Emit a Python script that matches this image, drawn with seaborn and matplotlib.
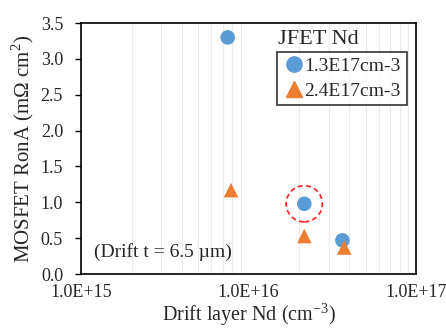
import numpy as np
import pandas as pd
import matplotlib
matplotlib.use('Agg')
import matplotlib.pyplot as plt
import seaborn as sns
from matplotlib.ticker import FixedLocator, FuncFormatter
from matplotlib.patches import Ellipse
from matplotlib.lines import Line2D

# data
nd_13 = [7.5e15, 2.15e16, 3.63e16]
ron_13 = [3.30, 0.98, 0.47]
nd_24 = [7.85e15, 2.15e16, 3.72e16]
ron_24 = [1.17, 0.53, 0.37]
series = ['1.3E17cm-3', '2.4E17cm-3']

df = pd.DataFrame({
    'Nd': nd_13 + nd_24,
    'RonA': ron_13 + ron_24,
    'JFET': [series[0]] * 3 + [series[1]] * 3,
})

sns.set_style('white')
plt.rcParams['font.family'] = ['Liberation Serif', 'DejaVu Serif']
plt.rcParams['mathtext.fontset'] = 'custom'
plt.rcParams['mathtext.rm'] = 'Liberation Serif'

fig, ax = plt.subplots(figsize=(4.46, 3.29), dpi=100)
fig.subplots_adjust(left=0.182, right=0.933, top=0.930, bottom=0.167)

ax.set_xscale('log')
ax.set_xlim(1e15, 1e17)
ax.set_ylim(0, 3.5)

# minor vertical gridlines
minors = [m * 10.0 ** e for e in (15, 16) for m in range(2, 10)]
ax.xaxis.set_minor_locator(FixedLocator(minors))
ax.grid(True, which='minor', axis='x', color='#ebebeb', lw=0.8)
ax.grid(False, which='major')
ax.set_axisbelow(True)

sns.scatterplot(data=df, x='Nd', y='RonA', hue='JFET', style='JFET',
                palette=['#5b9bd5', '#ed7d31'], markers=['o', '^'],
                s=110, edgecolor='none', ax=ax, legend=False, zorder=3)

# dashed circle around the highlighted point
circ = Ellipse((0.666, 0.98 / 3.5), width=0.108, height=0.108 * 335 / 251,
               transform=ax.transAxes, fill=False, ec='#ff1f1f', ls=(0, (3, 2)), lw=1.2)
ax.add_patch(circ)

ax.set_xticks([1e15, 1e16, 1e17])
ax.xaxis.set_major_formatter(FuncFormatter(lambda v, p: '%.1E' % v))
ax.set_yticks(np.arange(0, 3.51, 0.5))
ax.yaxis.set_major_formatter(FuncFormatter(lambda v, p: '%.1f' % v))
ax.tick_params(axis='x', which='major', direction='in', length=5, width=1, labelsize=13, pad=7, color='black')
ax.tick_params(axis='x', which='minor', length=0)
ax.tick_params(axis='y', direction='out', length=4, width=1, labelsize=13, pad=9, color='black', left=True)

for sp in ax.spines.values():
    sp.set_color('black')
    sp.set_linewidth(1.2)

ax.set_xlabel('Drift layer Nd (cm$^{\\mathrm{-3}}$)', fontsize=14.5, labelpad=0)
ax.set_ylabel('MOSFET RonA (m\u03a9 cm$^{\\mathrm{2}}$)', fontsize=15, labelpad=3)

ax.text(0.039, 0.068, '(Drift t = 6.5 \u00b5m)', transform=ax.transAxes, fontsize=14)
ax.text(0.588, 0.915, 'JFET Nd', transform=ax.transAxes, fontsize=16)

handles = [Line2D([], [], ls='none', marker='o', color='#5b9bd5', ms=11),
           Line2D([], [], ls='none', marker='^', color='#ed7d31', ms=11)]
leg = ax.legend(handles, series, loc='upper left', bbox_to_anchor=(0.585, 0.886),
                fontsize=14, frameon=True, fancybox=False, handletextpad=0.0,
                handlelength=1.1, borderpad=0.3, labelspacing=0.35, borderaxespad=0)
leg.get_frame().set_edgecolor('black')
leg.get_frame().set_linewidth(1.2)

fig.savefig('out.png', dpi=100)
